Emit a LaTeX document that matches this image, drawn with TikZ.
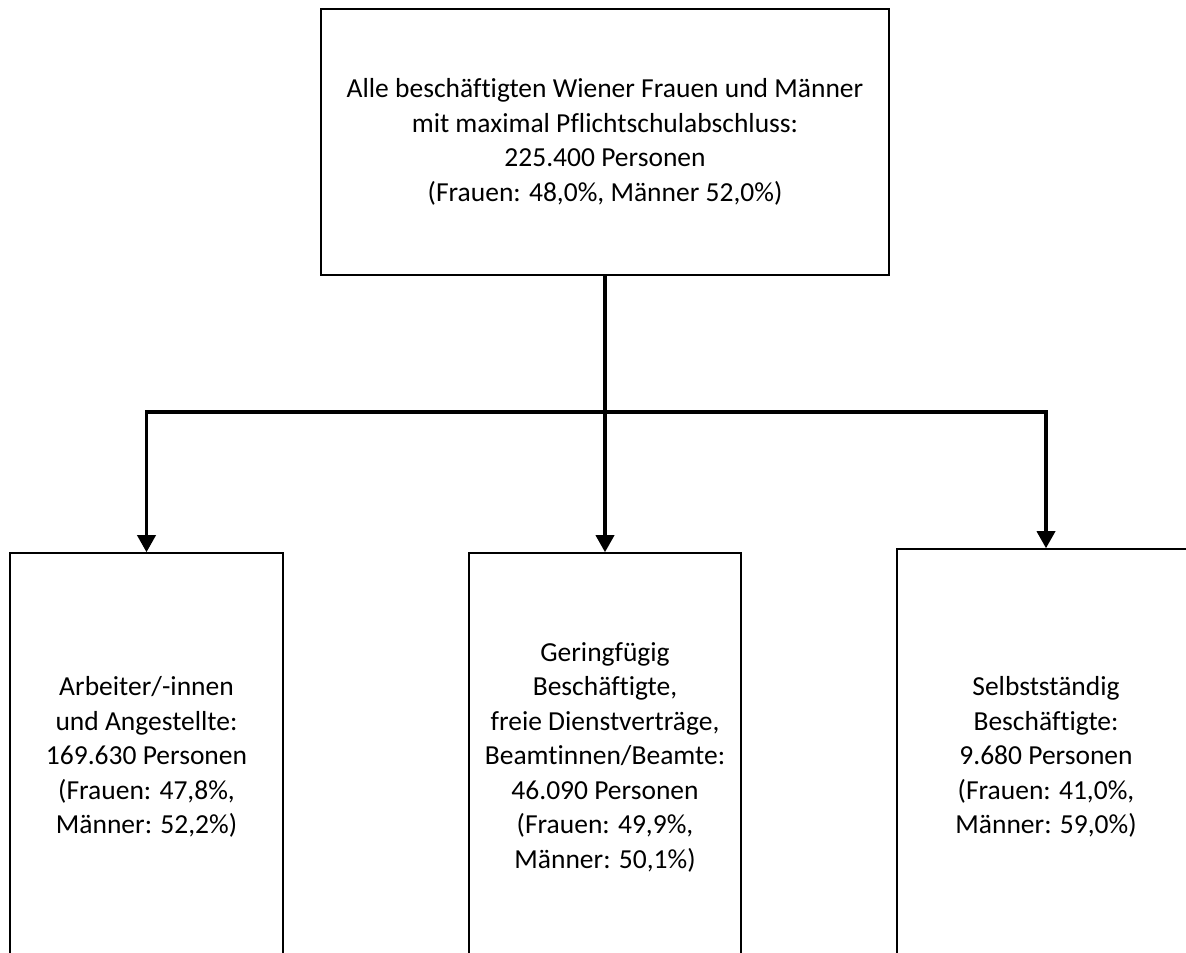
\documentclass[tikz,border=0pt]{standalone}
\usepackage{fontspec}
\setmainfont{Carlito}[Ligatures=CommonOff]
\usetikzlibrary{arrows.meta}
\tikzset{
  box/.style={draw, line width=1.5pt, align=center, inner sep=0pt,
    font=\fontsize{27.5}{34.5}\selectfont},
  link/.style={line width=3.5pt, -{Triangle[length=17pt,width=18pt]}},
}
\begin{document}
\begin{tikzpicture}[x=1pt,y=1pt]
\useasboundingbox (0,0) rectangle (1186,953);
\clip (0,0) rectangle (1186,953);
% alle Beschaeftigten
\node[box, minimum width=568pt, minimum height=266pt] (alle) at (605,811)
  {Alle besch\"aftigten Wiener Frauen und M\"anner\\mit maximal Pflichtschulabschluss:\\225.400 Personen\\(Frauen: 48,0\%, M\"anner 52,0\%)};
% drei Gruppen, unten offen
\node[box, minimum width=273pt, minimum height=408pt] (arbeiter) at (146.5,196)
  {Arbeiter/-innen\\und Angestellte:\\169.630 Personen\\(Frauen: 47,8\%,\\M\"anner: 52,2\%)};
\node[box, minimum width=272pt, minimum height=408pt] (geringf) at (605,196)
  {Geringf\"ugig\\Besch\"aftigte,\\freie Dienstvertr\"age,\\Beamtinnen/Beamte:\\46.090 Personen\\(Frauen: 49,9\%,\\M\"anner: 50,1\%)};
\node[box, minimum width=298pt, minimum height=416pt] (selbst) at (1046,196)
  {Selbstst\"andig\\Besch\"aftigte:\\9.680 Personen\\(Frauen: 41,0\%,\\M\"anner: 59,0\%)};
% Verbindungen
\coordinate (knoten) at (605,541);
\draw[line width=3.5pt] (alle.south) -- (knoten);
\draw[link] (knoten) -| (arbeiter.north);
\draw[link] (knoten) -- (geringf.north);
\draw[link] (knoten) -| (selbst.north);
\end{tikzpicture}
\end{document}
